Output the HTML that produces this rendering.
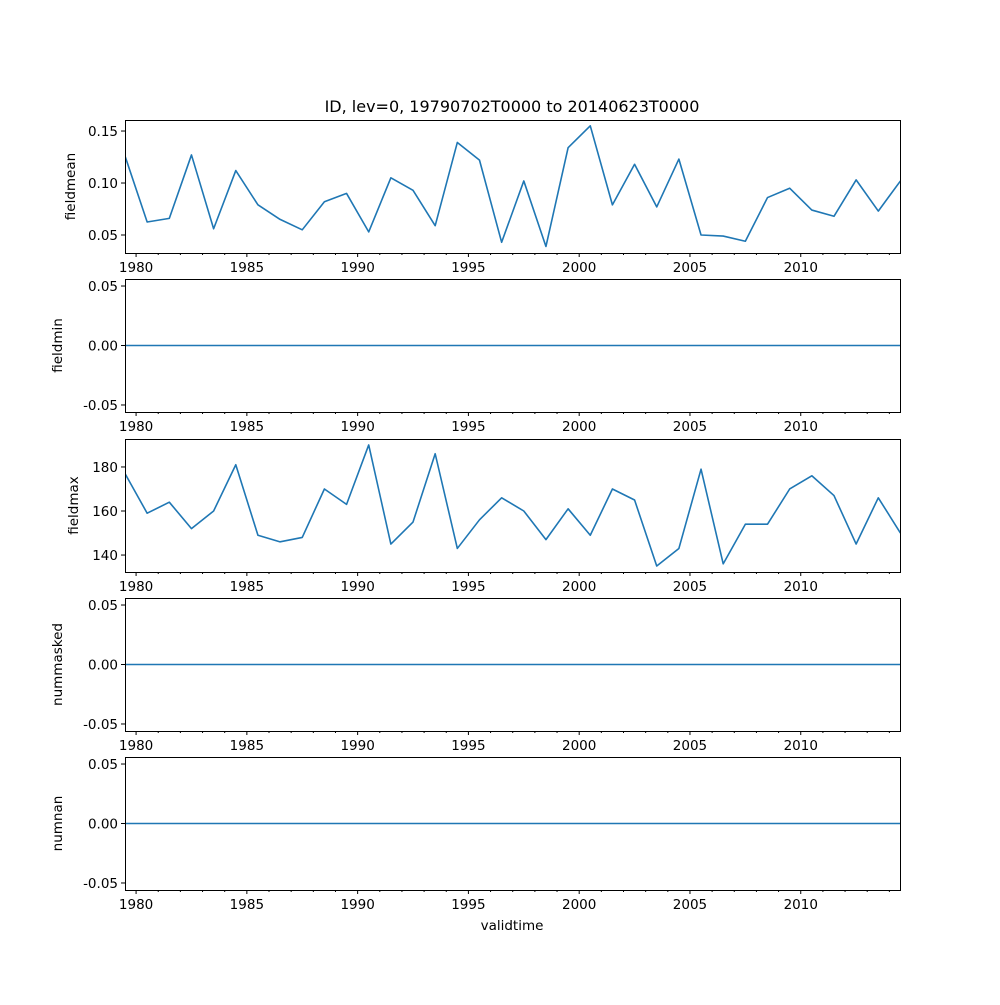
<!DOCTYPE html>
<html><head><meta charset="utf-8"><style>
body{margin:0;background:#fff}
svg text{font-family:"DejaVu Sans","Liberation Sans",sans-serif;font-size:13.5px;fill:#000}
</style></head><body>
<svg id="fig" width="1000" height="1000" xmlns="http://www.w3.org/2000/svg">
<text x="512" y="112" text-anchor="middle" style="font-size:16px">ID, lev=0, 19790702T0000 to 20140623T0000</text>
<text x="512" y="930" text-anchor="middle">validtime</text>
</svg>
<script>
const years = [1979,1980,1981,1982,1983,1984,1985,1986,1987,1988,1989,1990,1991,1992,1993,1994,1995,1996,1997,1998,1999,2000,2001,2002,2003,2004,2005,2006,2007,2008,2009,2010,2011,2012,2013,2014];
const fieldmean = [0.126,0.0625,0.066,0.127,0.056,0.112,0.079,0.065,0.055,0.082,0.090,0.053,0.105,0.093,0.059,0.139,0.122,0.043,0.102,0.039,0.134,0.155,0.079,0.118,0.077,0.123,0.050,0.049,0.044,0.086,0.095,0.074,0.068,0.103,0.073,0.102];
const fieldmin = years.map(()=>0);
const fieldmax = [177,159,164,152,160,181,149,146,148,170,163,190,145,155,186,143,156,166,160,147,161,149,170,165,135,143,179,136,154,154,170,176,167,145,166,150];
const nummasked = years.map(()=>0);
const numnan = years.map(()=>0);
const xTicks = [1980,1985,1990,1995,2000,2005,2010];
const panels = [
 {name:'fieldmean',data:fieldmean,ymin:0.0327,ymax:0.1606,ticks:[0.05,0.10,0.15],fmt:v=>v.toFixed(2),top:120,lx:75},
 {name:'fieldmin',data:fieldmin,ymin:-0.0559,ymax:0.0559,ticks:[-0.05,0,0.05],fmt:v=>v.toFixed(2),top:279,lx:62},
 {name:'fieldmax',data:fieldmax,ymin:132.3,ymax:192.7,ticks:[140,160,180],fmt:v=>String(v),top:439,lx:78},
 {name:'nummasked',data:nummasked,ymin:-0.0559,ymax:0.0559,ticks:[-0.05,0,0.05],fmt:v=>v.toFixed(2),top:598,lx:62},
 {name:'numnan',data:numnan,ymin:-0.0559,ymax:0.0559,ticks:[-0.05,0,0.05],fmt:v=>v.toFixed(2),top:757,lx:62}
];
const L=125,R=900,H=133;
const x0=1979.5,x1=2014.48;
const xs=t=>L+(t-x0)/(x1-x0)*(R-L);
const svg=document.getElementById('fig');
const NS='http://www.w3.org/2000/svg';
function mk(tag,attrs,parent){const e=document.createElementNS(NS,tag);for(const k in attrs)e.setAttribute(k,attrs[k]);(parent||svg).appendChild(e);return e;}
panels.forEach(p=>{
 const g=mk('g',{});
 
 
 const T=p.top,B=p.top+H;
 const ys=v=>B-(v-p.ymin)/(p.ymax-p.ymin)*H;
 const pts=years.map((y,i)=>xs(y+0.5).toFixed(2)+','+ys(p.data[i]).toFixed(2)).join(' ');
 const cp=mk('clipPath',{id:'c'+p.name},g);mk('rect',{x:L,y:T,width:R-L,height:H},cp);
 const line=mk('polyline',{points:pts,fill:'none',stroke:'#1f77b4','stroke-width':1.6,'stroke-linejoin':'round','clip-path':'url(#c'+p.name+')'},g);
 
 
 const fr=mk('rect',{x:L+0.5,y:T+0.5,width:R-L,height:H,fill:'none',stroke:'#000','stroke-width':1},g);
 
 
 p.ticks.forEach(v=>{const y=ys(v);mk('line',{x1:L-4,x2:L,y1:y,y2:y,stroke:'#000'},g);
  const t=mk('text',{x:L-7,y:y+5,'text-anchor':'end'},g);t.textContent=p.fmt(v);
  
  });
 for(let y=1980;y<=2014;y++){const x=xs(y);const maj=xTicks.includes(y);
  mk('line',{x1:x,x2:x,y1:B,y2:B+(maj?4:2),stroke:'#000'},g);
  if(maj){const t=mk('text',{x:x,y:B+19,'text-anchor':'middle'},g);t.textContent=y;
   
   }}
 const yl=mk('text',{x:p.lx,y:T+H/2,'text-anchor':'middle',transform:'rotate(-90 '+p.lx+' '+(T+H/2)+')'},g);
 yl.textContent=p.name;
 
 
});
</script>
</body></html>
